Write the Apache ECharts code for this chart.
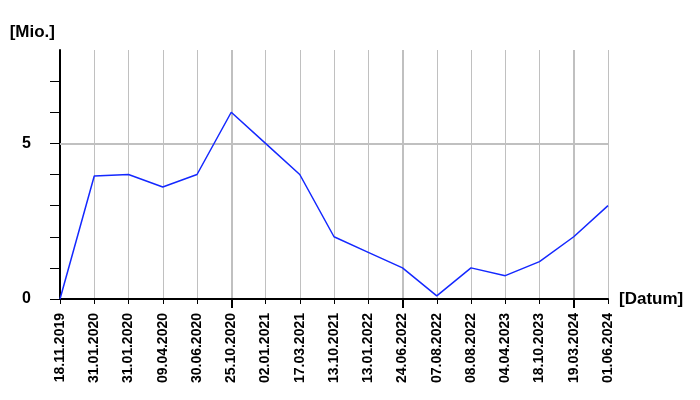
<!DOCTYPE html>
<html>
<head>
<meta charset="utf-8">
<script src="https://cdn.jsdelivr.net/npm/echarts@6/dist/echarts.min.js"></script>
<style>html,body{margin:0;padding:0;background:#fff}#c{width:700px;height:400px}</style>
</head>
<body>
<div id="c"></div>
<script>
const categories = ['18.11.2019','31.01.2020','31.01.2020','09.04.2020','30.06.2020','25.10.2020','02.01.2021','17.03.2021','13.10.2021','13.01.2022','24.06.2022','07.08.2022','08.08.2022','04.04.2023','18.10.2023','19.03.2024','01.06.2024'];
const values = [0, 3.95, 4.0, 3.6, 4.0, 6.0, 5.0, 4.0, 2.0, 1.5, 1.0, 0.1, 1.0, 0.75, 1.2, 2.0, 3.0];
const yTicks = [0,1,2,3,4,5,6,7];
const yLabels = [0,5];
const yGrid = 5;

const font = '"Liberation Sans", Arial, sans-serif';
const chart = echarts.init(document.getElementById('c'), null, {renderer: 'canvas'});
const major = (i) => i % 5 === 0 && i > 0;
chart.setOption({
  animation: false,
  backgroundColor: '#fff',
  grid: {left: 60, right: 92, top: 50, bottom: 101, containLabel: false},
  xAxis: [{
    type: 'category', data: categories, boundaryGap: false,
    name: '[Datum]', nameLocation: 'end', nameGap: 11,
    nameTextStyle: {fontFamily: font, fontSize: 17, fontWeight: 'bold', color: '#000'},
    axisLine: {lineStyle: {color: '#000', width: 2}},
    axisTick: {show: true, interval: 0, length: 5, lineStyle: {color: '#000', width: 1}},
    axisLabel: {interval: 0, rotate: 90, margin: 14, fontFamily: font, fontSize: 14, fontWeight: 'bold', color: '#000'},
    splitLine: {show: true, interval: 0, lineStyle: {color: '#c0c0c0', width: 1}}
  }, {
    type: 'category', data: categories, boundaryGap: false, position: 'bottom',
    axisLine: {show: false},
    axisTick: {show: true, interval: (i) => major(i), length: 9, lineStyle: {color: '#000', width: 2}},
    axisLabel: {show: false},
    splitLine: {show: true, interval: (i) => major(i), lineStyle: {color: '#c0c0c0', width: 2}}
  }],
  yAxis: {
    type: 'value', min: 0, max: 8,
    name: '[Mio.]', nameLocation: 'end', nameGap: 9,
    nameTextStyle: {fontFamily: font, fontSize: 17, fontWeight: 'bold', color: '#000', align: 'right', padding: [0, 5, 0, 0]},
    axisLine: {show: true, lineStyle: {color: '#000', width: 2}},
    axisTick: {show: true, customValues: yTicks, length: 10, lineStyle: {color: '#000', width: 1}},
    axisLabel: {customValues: yLabels, margin: 29, fontFamily: font, fontSize: 16, fontWeight: 'bold', color: '#000'},
    splitLine: {show: false}
  },
  series: [{
    type: 'line', data: values, xAxisIndex: 0, symbol: 'none',
    lineStyle: {color: '#1428ff', width: 1.5},
    z: 5,
    markLine: {
      silent: true, symbol: 'none', label: {show: false},
      lineStyle: {color: '#c0c0c0', width: 2, type: 'solid'},
      data: [{yAxis: yGrid}], z: 1
    }
  }]
});
</script>
</body>
</html>
